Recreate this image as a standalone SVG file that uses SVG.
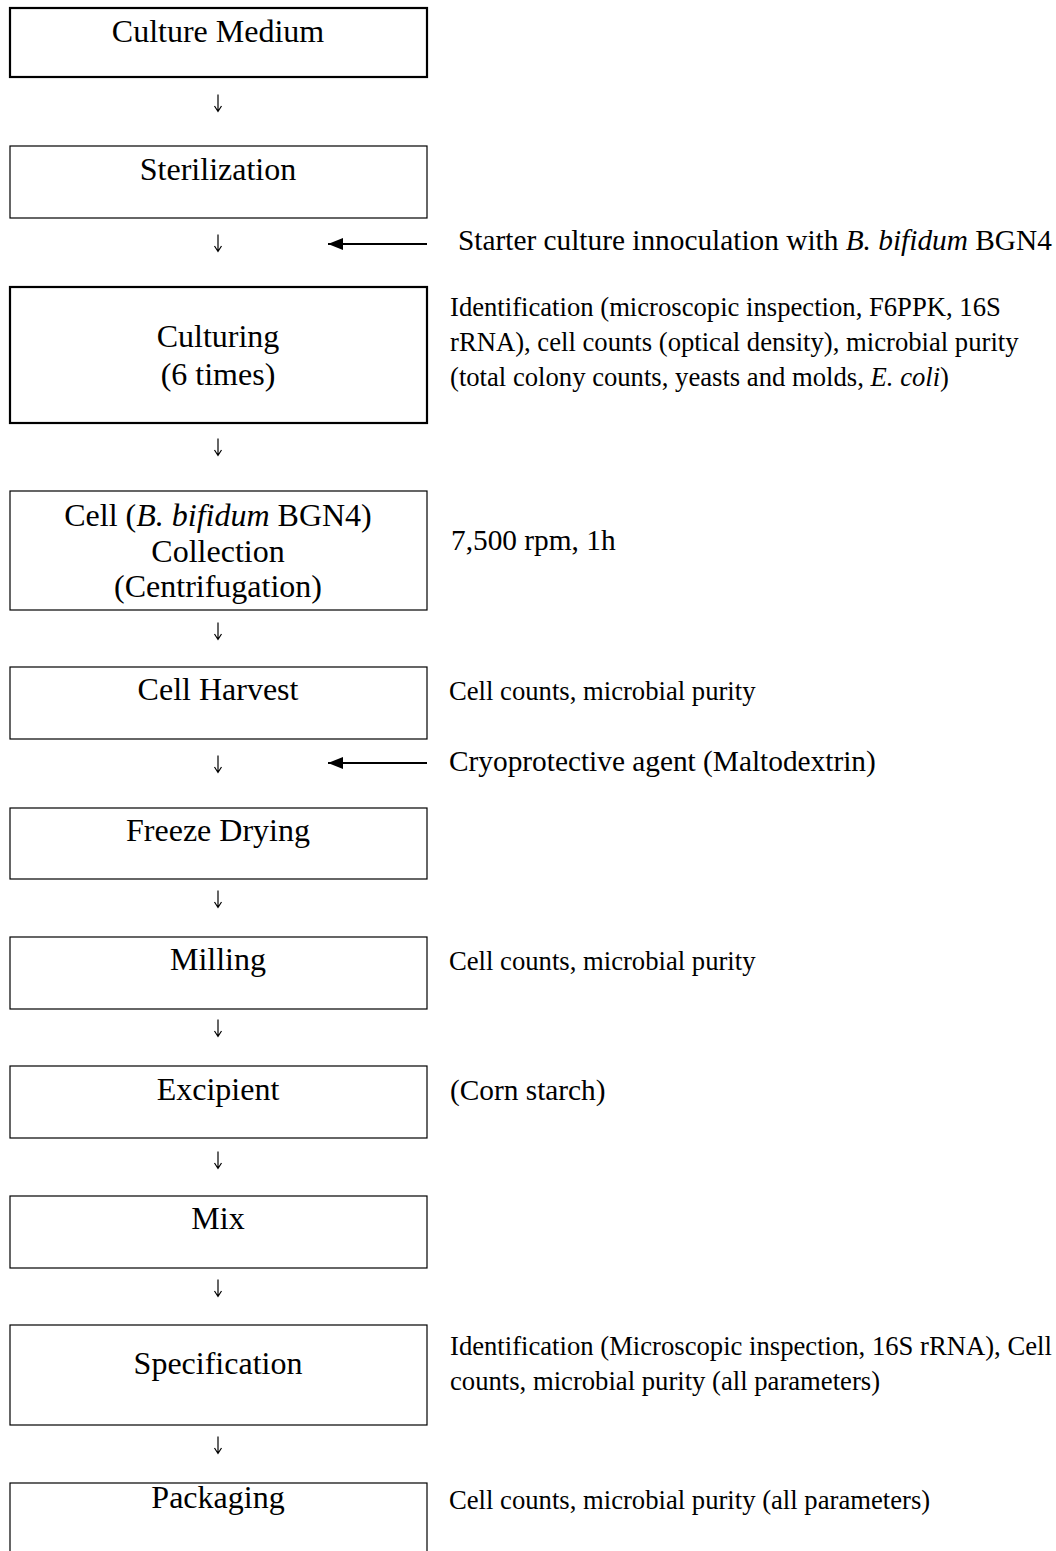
<svg xmlns="http://www.w3.org/2000/svg" width="1056" height="1551" viewBox="0 0 1056 1551">
<style>
text{font-family:"Liberation Serif","Times New Roman",serif;fill:#000}
.lbl{font-size:32px;text-anchor:middle}
.note{font-size:26.67px}
.big{font-size:29.33px}
.box{fill:#fff;stroke:#000;stroke-width:1.2}
.thick{stroke-width:2.2}
.dn{fill:none;stroke:#000;stroke-width:1.2}
.la{stroke:#000;stroke-width:2.2;fill:none}
</style>
<defs>
<marker id="ah" markerUnits="userSpaceOnUse" markerWidth="16" markerHeight="14" refX="15" refY="7" orient="auto">
<path d="M0,1 L15,7 L0,13 Z" fill="#000"/>
</marker>
<path id="down" d="M0,-8.5 V8.5 M-3.5,3 L0,8.5 L3.5,3" class="dn"/>
</defs>
<rect width="1056" height="1551" fill="#fff"/>
<g id="n1"><rect class="box thick" x="10" y="8" width="417" height="69"/><text class="lbl" x="218" y="42">Culture Medium</text></g>
<g id="n2"><rect class="box" x="10" y="146" width="417" height="72"/><text class="lbl" x="218" y="180">Sterilization</text></g>
<g id="n3"><rect class="box thick" x="10" y="287" width="417" height="136"/><text class="lbl" x="218" y="347">Culturing</text><text class="lbl" x="218" y="385">(6 times)</text></g>
<g id="n4"><rect class="box" x="10" y="491" width="417" height="119"/><text class="lbl" x="218" y="526">Cell (<tspan font-style="italic">B. bifidum</tspan> BGN4)</text><text class="lbl" x="218" y="562">Collection</text><text class="lbl" x="218" y="597">(Centrifugation)</text></g>
<g id="n5"><rect class="box" x="10" y="667" width="417" height="72"/><text class="lbl" x="218" y="700">Cell Harvest</text></g>
<g id="n6"><rect class="box" x="10" y="808" width="417" height="71"/><text class="lbl" x="218" y="841">Freeze Drying</text></g>
<g id="n7"><rect class="box" x="10" y="937" width="417" height="72"/><text class="lbl" x="218" y="970">Milling</text></g>
<g id="n8"><rect class="box" x="10" y="1066" width="417" height="72"/><text class="lbl" x="218" y="1100">Excipient</text></g>
<g id="n9"><rect class="box" x="10" y="1196" width="417" height="72"/><text class="lbl" x="218" y="1229">Mix</text></g>
<g id="n10"><rect class="box" x="10" y="1325" width="417" height="100"/><text class="lbl" x="218" y="1374">Specification</text></g>
<g id="n11"><rect class="box" x="10" y="1483" width="417" height="80"/><text class="lbl" x="218" y="1508">Packaging</text></g>
<g id="notes">
<text class="big" x="458" y="250">Starter culture innoculation with <tspan font-style="italic">B. bifidum</tspan> BGN4</text>
<text class="note" x="450" y="316">Identification (microscopic inspection, F6PPK, 16S</text>
<text class="note" x="450" y="351">rRNA), cell counts (optical density), microbial purity</text>
<text class="note" x="450" y="386">(total colony counts, yeasts and molds, <tspan font-style="italic">E. coli</tspan>)</text>
<text class="big" x="451" y="550">7,500 rpm, 1h</text>
<text class="note" x="449" y="700">Cell counts, microbial purity</text>
<text class="big" x="449" y="771">Cryoprotective agent (Maltodextrin)</text>
<text class="note" x="449" y="970">Cell counts, microbial purity</text>
<text class="big" x="450" y="1100">(Corn starch)</text>
<text class="note" x="450" y="1355">Identification (Microscopic inspection, 16S rRNA), Cell</text>
<text class="note" x="450" y="1390">counts, microbial purity (all parameters)</text>
<text class="note" x="449" y="1509">Cell counts, microbial purity (all parameters)</text>
</g>
<g id="connectors">
<use href="#down" x="218" y="103"/>
<use href="#down" x="218" y="243"/>
<use href="#down" x="218" y="447"/>
<use href="#down" x="218" y="631"/>
<use href="#down" x="218" y="764"/>
<use href="#down" x="218" y="899"/>
<use href="#down" x="218" y="1028"/>
<use href="#down" x="218" y="1160"/>
<use href="#down" x="218" y="1288"/>
<use href="#down" x="218" y="1445"/>
<line class="la" x1="427" y1="244" x2="328" y2="244" marker-end="url(#ah)"/>
<line class="la" x1="427" y1="763" x2="328" y2="763" marker-end="url(#ah)"/>
</g>
</svg>
